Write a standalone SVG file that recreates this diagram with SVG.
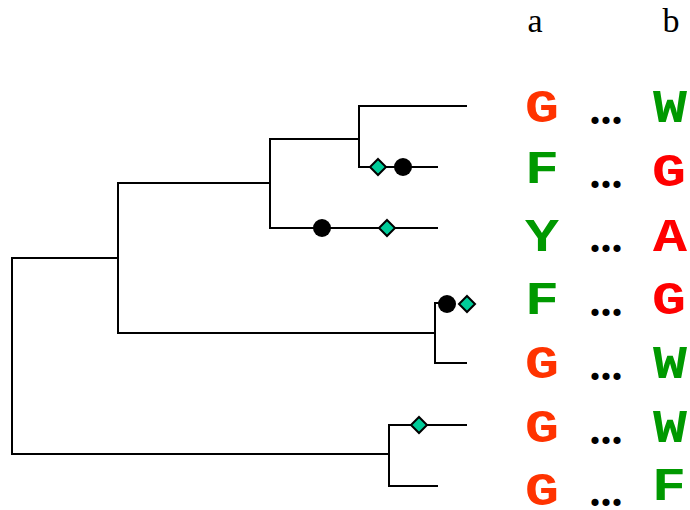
<svg xmlns="http://www.w3.org/2000/svg" width="690" height="510" viewBox="0 0 690 510">
  <style>
    .branch { fill: none; stroke: #000; stroke-width: 2; stroke-linecap: square; }
    .hdr { font-family: "Liberation Serif", "Times New Roman", serif; font-size: 34px; fill: #000; text-anchor: middle; }
    .res { font-family: "Liberation Mono", "Courier New", monospace; font-weight: bold; font-size: 46px; text-anchor: middle; }
    .dots { font-family: "Liberation Serif", "Times New Roman", serif; font-weight: bold; font-size: 44px; fill: #000; text-anchor: middle; }
    .orange { fill: #FF3300; }
    .red { fill: #FF0000; }
    .green { fill: #009900; }
    .loss { fill: #000; }
    .gain { fill: #00CC99; stroke: #000; stroke-width: 2; }
  </style>
  <defs>
    <path id="diamond" d="M0,-8 L8,0 L0,8 L-8,0 Z"/>
  </defs>
  <rect width="690" height="510" fill="#fff"/>

  <!-- tree branches -->
  <g id="connectors">
    <path class="branch" d="M12,258 V454"/>
    <path class="branch" d="M12,258 H118 M118,183 V333"/>
    <path class="branch" d="M118,183 H270 M270,139 V228"/>
    <path class="branch" d="M270,139 H359 M359,106 V167"/>
    <path class="branch" d="M359,106 H466"/>
    <path class="branch" d="M359,167 H437"/>
    <path class="branch" d="M270,228 H437"/>
    <path class="branch" d="M118,333 H435 M435,303 V363"/>
    <path class="branch" d="M435,303 H450"/>
    <path class="branch" d="M435,363 H466"/>
    <path class="branch" d="M12,454 H389 M389,425 V486"/>
    <path class="branch" d="M389,425 H466"/>
    <path class="branch" d="M389,486 H437"/>
  </g>

  <!-- character state changes on branches -->
  <g id="events">
    <use href="#diamond" class="gain" x="378" y="167"/>
    <circle class="loss" cx="403" cy="167" r="9"/>
    <circle class="loss" cx="322" cy="228" r="9"/>
    <use href="#diamond" class="gain" x="387" y="228"/>
    <circle class="loss" cx="447" cy="304" r="9"/>
    <use href="#diamond" class="gain" x="467" y="304"/>
    <use href="#diamond" class="gain" x="419" y="425"/>
  </g>

  <!-- column headers -->
  <g id="headers">
    <text class="hdr" x="535" y="32">a</text>
    <text class="hdr" x="671" y="32">b</text>
  </g>

  <!-- residues per taxon (glyphs widened to a broad slab-mono look) -->
  <g id="taxon1">
    <text class="res orange" x="542" y="122" textLength="34" lengthAdjust="spacingAndGlyphs">G</text>
    <text class="dots" x="606" y="124">...</text>
    <text class="res green" x="670" y="122" textLength="34" lengthAdjust="spacingAndGlyphs">W</text>
  </g>
  <g id="taxon2">
    <text class="res green" x="542" y="183" textLength="34" lengthAdjust="spacingAndGlyphs">F</text>
    <text class="dots" x="606" y="188">...</text>
    <text class="res red" x="669" y="186" textLength="34" lengthAdjust="spacingAndGlyphs">G</text>
  </g>
  <g id="taxon3">
    <text class="res green" x="542" y="251" textLength="34" lengthAdjust="spacingAndGlyphs">Y</text>
    <text class="dots" x="606" y="252">...</text>
    <text class="res red" x="670" y="251" textLength="34" lengthAdjust="spacingAndGlyphs">A</text>
  </g>
  <g id="taxon4">
    <text class="res green" x="542" y="314" textLength="34" lengthAdjust="spacingAndGlyphs">F</text>
    <text class="dots" x="606" y="316">...</text>
    <text class="res red" x="669" y="314" textLength="34" lengthAdjust="spacingAndGlyphs">G</text>
  </g>
  <g id="taxon5">
    <text class="res orange" x="542" y="378" textLength="34" lengthAdjust="spacingAndGlyphs">G</text>
    <text class="dots" x="606" y="380">...</text>
    <text class="res green" x="670" y="378" textLength="34" lengthAdjust="spacingAndGlyphs">W</text>
  </g>
  <g id="taxon6">
    <text class="res orange" x="542" y="442" textLength="34" lengthAdjust="spacingAndGlyphs">G</text>
    <text class="dots" x="606" y="444">...</text>
    <text class="res green" x="670" y="442" textLength="34" lengthAdjust="spacingAndGlyphs">W</text>
  </g>
  <g id="taxon7">
    <text class="res orange" x="542" y="505" textLength="34" lengthAdjust="spacingAndGlyphs">G</text>
    <text class="dots" x="606" y="506">...</text>
    <text class="res green" x="669" y="500" textLength="34" lengthAdjust="spacingAndGlyphs">F</text>
  </g>
</svg>
